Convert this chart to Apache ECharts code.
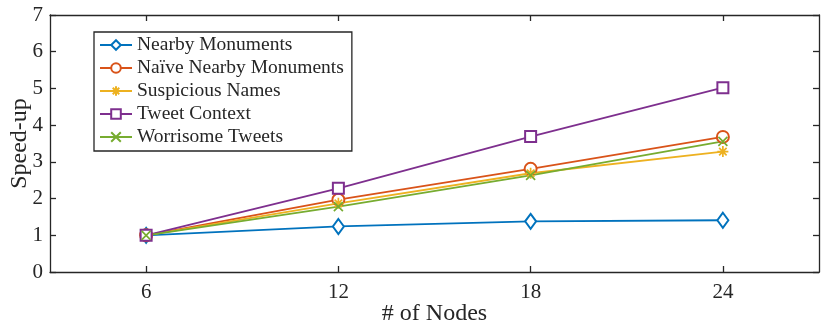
<!DOCTYPE html>
<html>
<head>
<meta charset="utf-8">
<script src="https://cdn.jsdelivr.net/npm/echarts@6/dist/echarts.min.js"></script>
<style>
  html, body { margin: 0; padding: 0; background: #fff; }
  #main { width: 830px; height: 327px; }
</style>
</head>
<body>
<div id="main"></div>
<script>
// data
var nodes = [6, 12, 18, 24];
var seriesNames = ['Nearby Monuments', 'Naïve Nearby Monuments', 'Suspicious Names', 'Tweet Context', 'Worrisome Tweets'];
var nearby = [1.00, 1.24, 1.38, 1.41];
var naive = [1.00, 1.97, 2.81, 3.68];
var suspicious = [1.00, 1.87, 2.69, 3.28];
var tweetContext = [1.00, 2.28, 3.69, 5.02];
var worrisome = [1.00, 1.78, 2.63, 3.56];
var yTicks = [0, 1, 2, 3, 4, 5, 6, 7];

var colors = ['#0072BD', '#D95319', '#EDB120', '#7E2F8E', '#77AC30'];
var asterisk = 'path://M0,5 L10,5 M5,0 L5,10 M1.6,1.6 L8.4,8.4 M8.4,1.6 L1.6,8.4';
var cross = 'path://M0,0 L10,10 M10,0 L0,10';

function pairs(vals) {
    return nodes.map(function(n, i) { return [n, vals[i]]; });
}

function mkSeries(name, vals, color, symbol, size) {
    return {
        name: name,
        type: 'line',
        data: pairs(vals),
        symbol: symbol,
        symbolSize: size,
        showAllSymbol: true,
        lineStyle: { color: color, width: 1.8 },
        itemStyle: { color: color, borderColor: color, borderWidth: 1.7 },
        emphasis: { disabled: true },
        animation: false
    };
}

var font = 'Liberation Serif';
var dark = '#262626';
var axisLine = { show: true, onZero: false, lineStyle: { color: dark, width: 1.3 } };
var tick = { show: true, inside: true, length: 6, lineStyle: { color: dark, width: 1.3 } };

var myChart = echarts.init(document.getElementById('main'));
var option = {
    backgroundColor: '#fff',
    color: colors,
    grid: { left: 50, right: 11, top: 15, bottom: 55, containLabel: false, outerBoundsMode: 'none' },
    legend: {
        orient: 'vertical',
        left: 94,
        top: 32,
        padding: [3, 8, 4, 5],
        itemGap: 3,
        itemWidth: 32,
        itemHeight: 12,
        borderColor: dark,
        borderWidth: 1.3,
        backgroundColor: '#fff',
        textStyle: { fontFamily: font, fontSize: 19.5, color: dark },
        data: seriesNames
    },
    xAxis: [{
        type: 'value',
        min: 3,
        max: 27,
        name: '# of Nodes',
        nameLocation: 'middle',
        nameGap: 30,
        nameMoveOverlap: false,
        nameTextStyle: { fontFamily: font, fontSize: 24, color: dark },
        axisLine: axisLine,
        axisTick: Object.assign({ customValues: nodes }, tick),
        axisLabel: { customValues: nodes, fontFamily: font, fontSize: 21, color: dark, margin: 10 },
        splitLine: { show: false }
    }, {
        type: 'value',
        position: 'top',
        min: 3,
        max: 27,
        axisLine: axisLine,
        axisTick: Object.assign({ customValues: nodes }, tick),
        axisLabel: { show: false },
        splitLine: { show: false }
    }],
    yAxis: [{
        type: 'value',
        min: yTicks[0],
        max: yTicks[yTicks.length - 1],
        interval: 1,
        name: 'Speed-up',
        nameLocation: 'middle',
        nameGap: 18,
        nameMoveOverlap: false,
        nameTextStyle: { fontFamily: font, fontSize: 24, color: dark },
        axisLine: axisLine,
        axisTick: tick,
        axisLabel: { fontFamily: font, fontSize: 21, color: dark, margin: 7 },
        splitLine: { show: false }
    }, {
        type: 'value',
        position: 'right',
        min: yTicks[0],
        max: yTicks[yTicks.length - 1],
        interval: 1,
        axisLine: axisLine,
        axisTick: tick,
        axisLabel: { show: false },
        splitLine: { show: false }
    }],
    series: [
        mkSeries(seriesNames[0], nearby, colors[0], 'emptyDiamond', [11, 15]),
        mkSeries(seriesNames[1], naive, colors[1], 'emptyCircle', 12),
        mkSeries(seriesNames[2], suspicious, colors[2], asterisk, 11),
        mkSeries(seriesNames[3], tweetContext, colors[3], 'emptyRect', 11),
        mkSeries(seriesNames[4], worrisome, colors[4], cross, 9)
    ]
};
myChart.setOption(option);
</script>
</body>
</html>
